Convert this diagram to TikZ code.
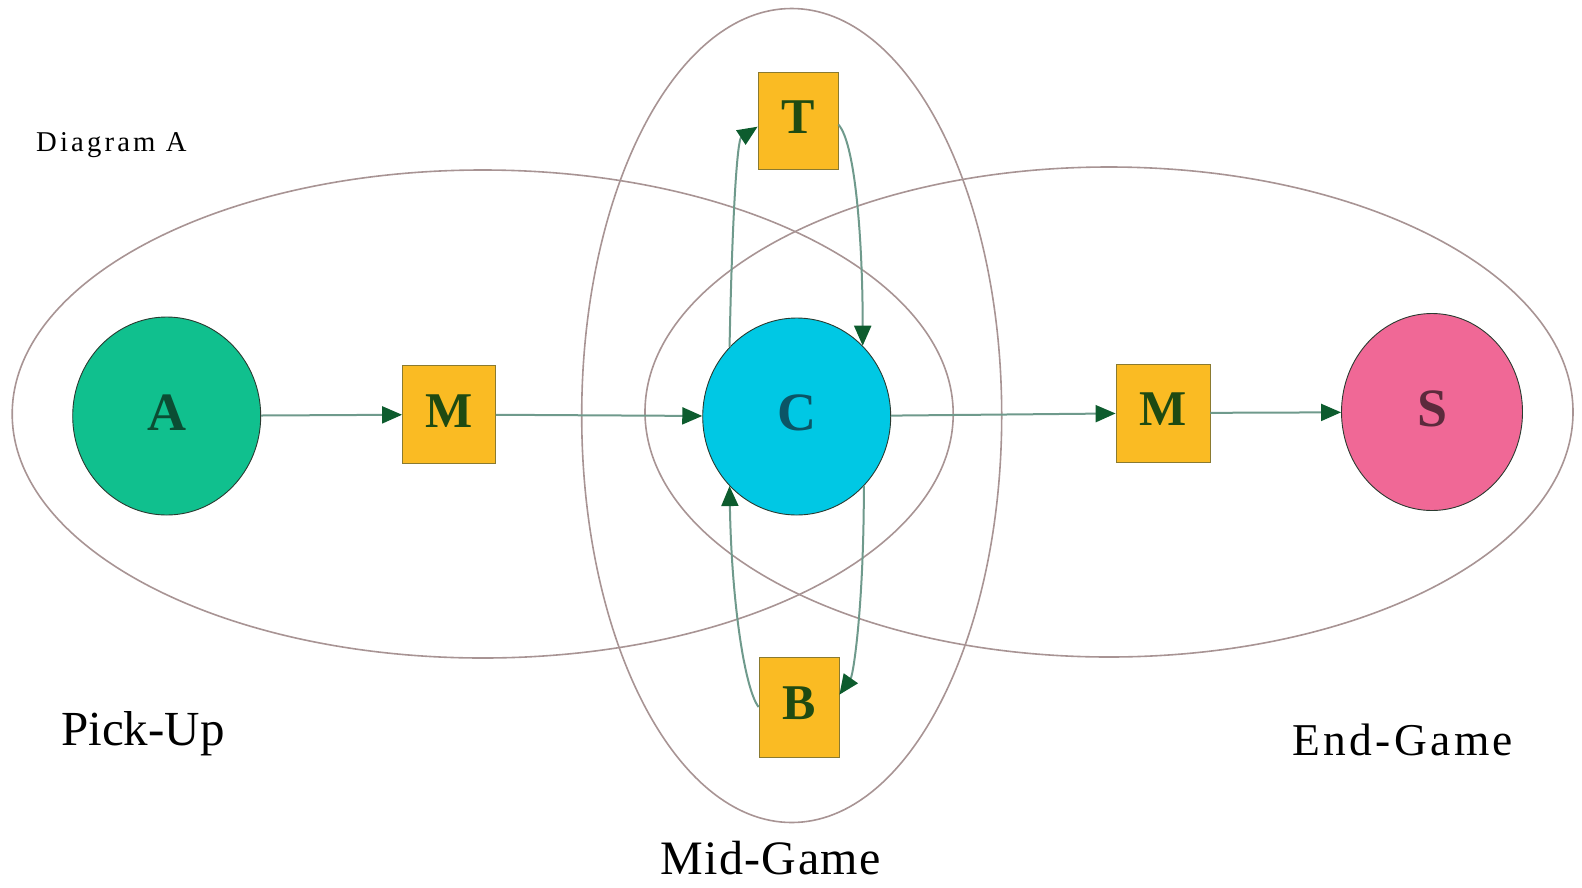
\documentclass[tikz,border=0pt]{standalone}
\usepackage{fontspec}
\setmainfont{Liberation Serif}
\usetikzlibrary{shapes.geometric,arrows.meta}
\definecolor{grpline}{HTML}{A89494}
\definecolor{afill}{HTML}{10C08E}
\definecolor{cfill}{HTML}{00C8E4}
\definecolor{sfill}{HTML}{F06896}
\definecolor{sqfill}{HTML}{FABB23}
\definecolor{sqborder}{HTML}{8A7A30}
\definecolor{nodeborder}{HTML}{2A3A30}
\definecolor{atext}{HTML}{0B4D33}
\definecolor{ctext}{HTML}{0B5566}
\definecolor{stext}{HTML}{5C2A3C}
\definecolor{sqtext}{HTML}{1E4A12}
\definecolor{connline}{HTML}{6F9A8C}
\definecolor{tipcol}{HTML}{0D5C2E}
\newcommand{\rlet}[1]{\raisebox{7pt}{#1}}
\begin{document}
\begin{tikzpicture}[x=1pt,y=1pt,
  grp/.style={ellipse, draw=grpline, line width=1.6pt, inner sep=0},
  circ/.style={ellipse, draw=nodeborder, line width=0.9pt, inner sep=0, font=\fontsize{54}{60}\selectfont\bfseries},
  sq/.style={rectangle, fill=sqfill, draw=sqborder, line width=0.8pt, inner sep=0, text=sqtext, font=\fontsize{50}{56}\selectfont\bfseries},
  conn/.style={draw=connline, line width=2pt, -{Triangle[length=20pt,width=17pt,color=tipcol]}},
  lbl/.style={anchor=base west, inner sep=0, text=black}]
\useasboundingbox (0,0) rectangle (1582,-887);

% group ellipses
\node[grp, minimum width=941pt, minimum height=488pt] (pick) at (482.7,-414) {};
\node[grp, minimum width=928pt, minimum height=490pt] (endg) at (1109,-412) {};
\node[grp, minimum width=420pt, minimum height=814pt] (mid) at (791.7,-415.5) {};

% nodes
\node[circ, fill=afill, text=atext, minimum width=188pt, minimum height=198pt] (A) at (166.7,-416) {\rlet{A}};
\node[sq, minimum width=93pt, minimum height=98pt] (M1) at (449,-414.5) {\rlet{M}};
\node[circ, fill=cfill, text=ctext, minimum width=188pt, minimum height=197pt] (C) at (796.7,-416.5) {\rlet{C}};
\node[sq, minimum width=94pt, minimum height=98pt] (M2) at (1163,-413) {\rlet{M}};
\node[circ, fill=sfill, text=stext, minimum width=181pt, minimum height=197pt] (S) at (1432,-412) {\rlet{S}};
\node[sq, minimum width=80pt, minimum height=97pt] (T) at (798,-121) {\rlet{T}};
\node[sq, minimum width=80pt, minimum height=100pt] (B) at (799,-707) {\rlet{B}};

% connectors
\draw[conn] (A) -- (M1);
\draw[conn] (M1) -- (C);
\draw[conn] (C) -- (M2);
\draw[conn] (M2) -- (S);
\draw[conn] (C.134) .. controls +(3,143) and +(-20,-13) .. (T.188);
\draw[conn] (T.-5) .. controls +(18,-20) and +(0,96) .. (C.47);
\draw[conn] (B.180) .. controls +(-14,18) and +(2,-115) .. (C.226);
\draw[conn] (C.-46) .. controls +(0,-120) and +(14,20) .. (B.17);

% labels
\node[lbl, font=\fontsize{28.7}{32}\selectfont\addfontfeatures{LetterSpace=11}] (lda) at (36,-151) {Diagram A};
\node[lbl, font=\fontsize{49}{56}\selectfont] (lpu) at (61,-745) {Pick-Up};
\node[lbl, font=\fontsize{48}{56}\selectfont\addfontfeatures{LetterSpace=3}] (lmg) at (660,-874) {Mid-Game};
\node[lbl, font=\fontsize{45.5}{52}\selectfont\addfontfeatures{LetterSpace=7.5}] (leg) at (1292,-755) {End-Game};
\end{tikzpicture}
\end{document}
